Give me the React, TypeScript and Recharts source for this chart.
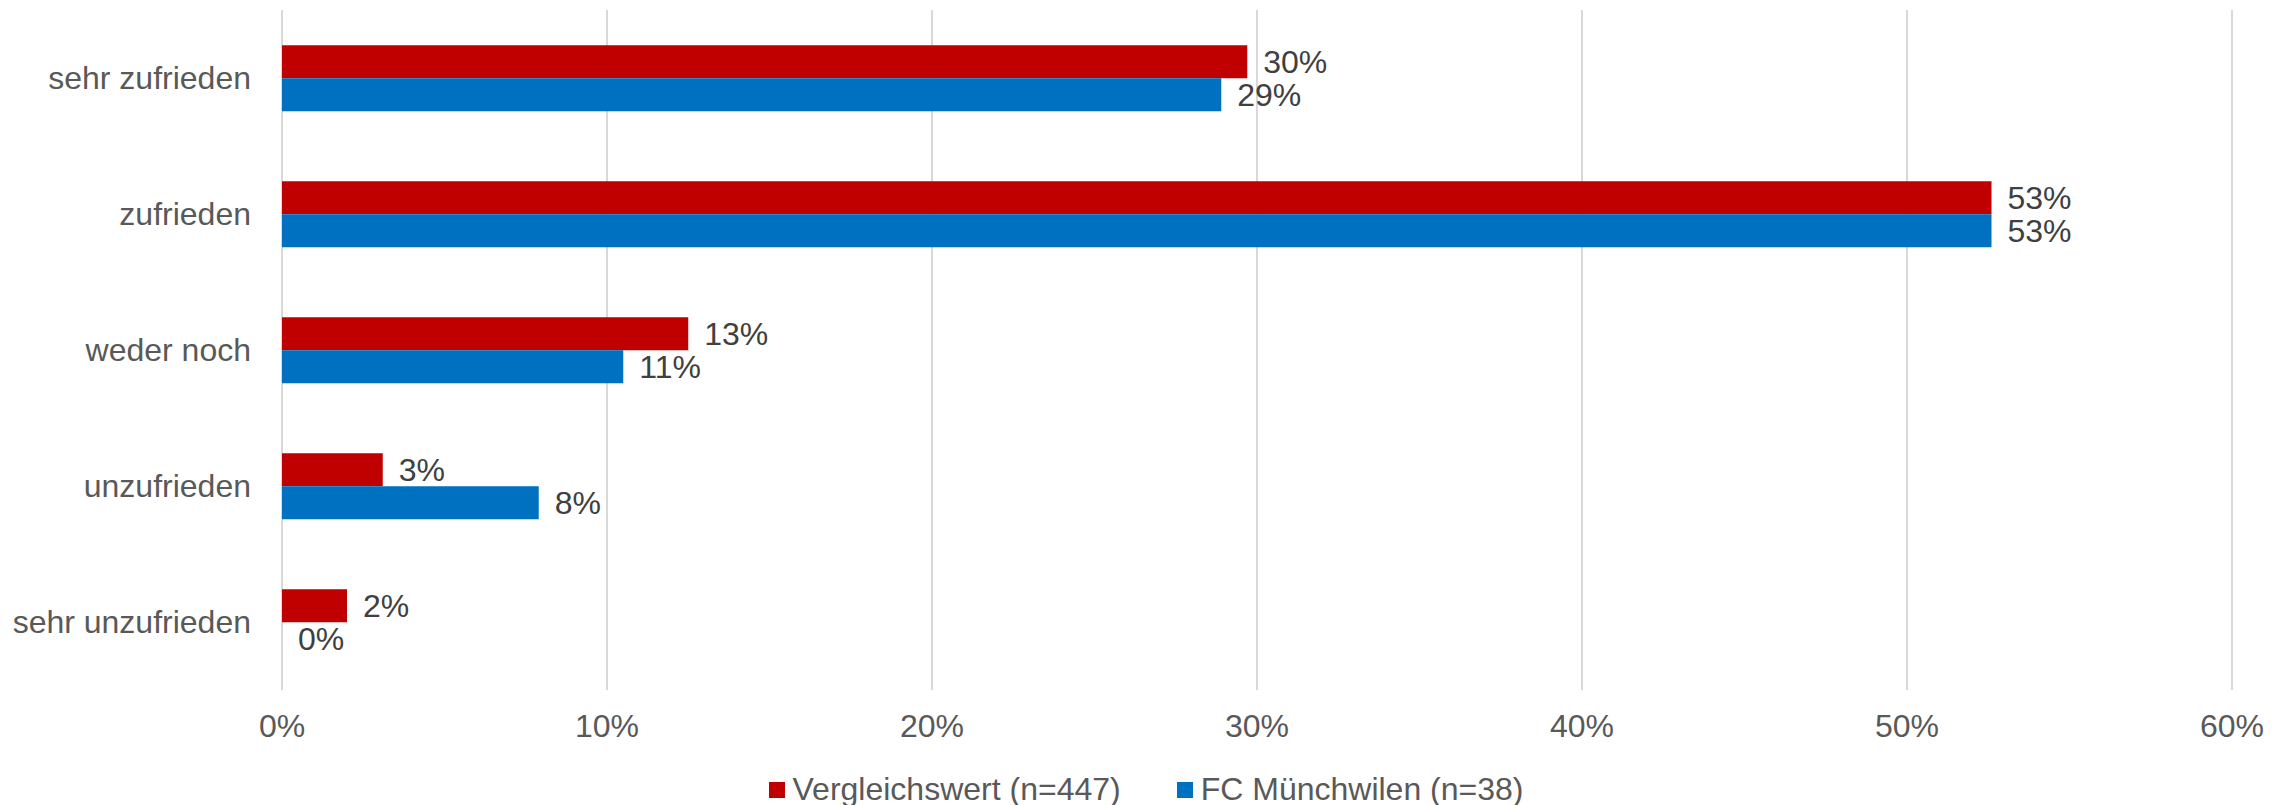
import {
  BarChart,
  Bar,
  XAxis,
  YAxis,
  CartesianGrid,
  Legend,
  LabelList,
} from "recharts";

const categories = [
  "sehr zufrieden",
  "zufrieden",
  "weder noch",
  "unzufrieden",
  "sehr unzufrieden",
];
const vergleich = [29.7, 52.6, 12.5, 3.1, 2.0];
const muenchwilen = [28.9, 52.6, 10.5, 7.9, 0];
const seriesNames = ["Vergleichswert (n=447)", "FC Münchwilen (n=38)"];
const xTicks = [0, 10, 20, 30, 40, 50, 60];

const RED = "#c00000";
const BLUE = "#0070c0";
const FONT = "'Liberation Sans', Arial, sans-serif";
const FS = 32;

const data = categories.map((name, i) => ({
  name,
  vergleich: vergleich[i],
  muenchwilen: muenchwilen[i],
}));

const pct = (v: any) => `${Math.round(Number(v))}%`;

const LegendContent = ({ payload }: any) => {
  // keep the series order, recharts sorts the payload by name
  const items = [...(payload || [])].sort(
    (a: any, b: any) => seriesNames.indexOf(a.value) - seriesNames.indexOf(b.value)
  );
  return (
    <div
      style={{
        display: "flex",
        justifyContent: "center",
        alignItems: "center",
        fontFamily: FONT,
        fontSize: FS,
        color: "#595959",
        gap: 56,
      }}
    >
      {items.map((p: any) => (
        <div key={p.value} style={{ display: "flex", alignItems: "center" }}>
          <span
            style={{
              width: 16,
              height: 16,
              background: p.color,
              display: "inline-block",
              marginRight: 8,
            }}
          />
          <span>{p.value}</span>
        </div>
      ))}
    </div>
  );
};

const App = () => {
  return (
    <div style={{ position: "absolute", left: 0, top: 0 }}>
      <BarChart
        width={2292}
        height={805}
        data={data}
        layout="vertical"
        margin={{ top: 10, right: 60, left: 0, bottom: 0 }}
        barCategoryGap="26%"
        barGap={0}
      >
        <CartesianGrid horizontal={false} stroke="#d9d9d9" strokeWidth={2} />
        <XAxis
          type="number"
          domain={[0, 60]}
          ticks={xTicks}
          tickFormatter={(v) => `${v}%`}
          axisLine={false}
          tickLine={false}
          tickSize={0}
          tickMargin={24}
          height={81}
          tick={{ fill: "#595959", fontSize: FS, fontFamily: FONT }}
        />
        <YAxis
          type="category"
          dataKey="name"
          axisLine={false}
          tickLine={false}
          tickSize={0}
          tickMargin={31}
          width={282}
          tick={{ fill: "#595959", fontSize: FS, fontFamily: FONT }}
        />
        <Legend
          verticalAlign="bottom"
          height={34}
          wrapperStyle={{ left: 0, width: 2292 }}
          content={<LegendContent />}
        />
        <Bar
          dataKey="vergleich"
          name={seriesNames[0]}
          fill={RED}
          minPointSize={0.01}
          isAnimationActive={false}
        >
          <LabelList
            dataKey="vergleich"
            position="right"
            offset={16}
            formatter={pct}
            fill="#404040"
            fontSize={FS}
            fontFamily={FONT}
          />
        </Bar>
        <Bar
          dataKey="muenchwilen"
          name={seriesNames[1]}
          fill={BLUE}
          minPointSize={0.01}
          isAnimationActive={false}
        >
          <LabelList
            dataKey="muenchwilen"
            position="right"
            offset={16}
            formatter={pct}
            fill="#404040"
            fontSize={FS}
            fontFamily={FONT}
          />
        </Bar>
      </BarChart>
    </div>
  );
};

export default App;
